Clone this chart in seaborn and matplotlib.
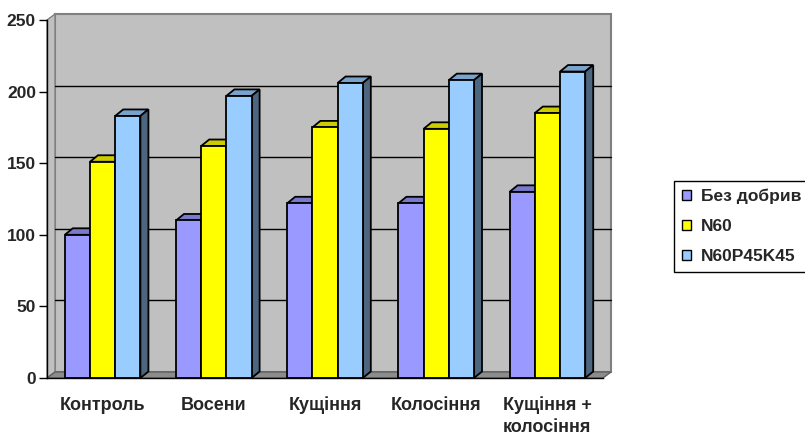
import matplotlib
matplotlib.use("Agg")
import matplotlib.pyplot as plt
from matplotlib.patches import Polygon, Rectangle, Patch
from matplotlib.transforms import offset_copy, IdentityTransform
import matplotlib.colors as mcolors
import numpy as np
import pandas as pd
import seaborn as sns

# ---- data ----
stages = ["Контроль", "Восени", "Кущіння", "Колосіння", "Кущіння +\nколосіння"]
treatments = ["Без добрив", "N60", "N60P45K45"]
bez_dobryv = [100, 110, 122, 122, 130]
n60 = [151, 162, 175, 174, 185]
n60p45k45 = [183, 197, 206, 208, 214]
y_ticks = [0, 50, 100, 150, 200, 250]

colors = ["#9999FF", "#FFFF00", "#99CCFF"]

df = pd.DataFrame({
    "stage": stages * 3,
    "treatment": [t for t in treatments for _ in stages],
    "value": bez_dobryv + n60 + n60p45k45,
})

sns.set_style("white")
plt.rcParams["font.family"] = ["Liberation Sans", "DejaVu Sans"]

W, H = 805, 436
fig = plt.figure(figsize=(W / 100, H / 100), dpi=100)
ax = fig.add_axes([47 / W, 58 / H, 556 / W, 358 / H])

sns.barplot(data=df, x="stage", y="value", hue="treatment", order=stages,
            hue_order=treatments, palette=colors, width=0.68,
            edgecolor="black", linewidth=1.3, saturation=1, legend=False,
            ax=ax)
bars = [p for p in ax.patches if isinstance(p, Rectangle)]

ax.set_xlim(-0.5, len(stages) - 0.5)
ax.set_ylim(0, 250)
ax.set_yticks(y_ticks)
ax.set_xlabel("")
ax.set_ylabel("")
ax.patch.set_visible(False)

# depth offsets (pixels) for the walls and the column faces
DX, DY = 8, 6
BX, BY = 8, 6.5

# back wall
wall_tr = offset_copy(ax.transAxes, fig=fig, x=DX, y=DY, units="dots")
ax.add_patch(Rectangle((0, 0), 1, 1, transform=wall_tr, facecolor="#C0C0C0",
                       edgecolor="#808080", linewidth=1.5, zorder=0.1,
                       clip_on=False))
grid_tr = offset_copy(ax.get_yaxis_transform(), fig=fig, x=DX, y=DY,
                      units="dots")
for v in y_ticks[1:-1]:
    ax.plot([0, 1], [v, v], transform=grid_tr, color="black", lw=1.0,
            zorder=0.2, clip_on=False)

fig.canvas.draw()
ident = IdentityTransform()
p00 = ax.transAxes.transform((0, 0))
p01 = ax.transAxes.transform((0, 1))
p10 = ax.transAxes.transform((1, 0))
d = np.array([DX, DY])

# side wall
ax.add_patch(Polygon([p00, p00 + d, p01 + d, p01], closed=True,
                     transform=ident, facecolor="#C0C0C0",
                     edgecolor="#808080", linewidth=1.0, zorder=0.15,
                     clip_on=False))
# floor
ax.add_patch(Polygon([p00, p10, p10 + d, p00 + d], closed=True,
                     transform=ident, facecolor="#8C8C8C",
                     edgecolor="#606060", linewidth=1.0, zorder=0.3,
                     clip_on=False))

# 3D faces of the columns, drawn left to right so nearer columns overlap
bars.sort(key=lambda b: b.get_x())
for i, b in enumerate(bars):
    x0, y0 = ax.transData.transform((b.get_x(), 0))
    x1, y1 = ax.transData.transform((b.get_x() + b.get_width(), b.get_height()))
    fc = np.array(mcolors.to_rgb(b.get_facecolor()))
    z = 1 + i * 0.01
    top = Polygon([(x0, y1), (x1, y1), (x1 + BX, y1 + BY), (x0 + BX, y1 + BY)],
                  closed=True, transform=ident, facecolor=fc * 0.8,
                  edgecolor="black", linewidth=1.3, zorder=z,
                  clip_on=False)
    side = Polygon([(x1, y0), (x1 + BX, y0 + BY), (x1 + BX, y1 + BY), (x1, y1)],
                   closed=True, transform=ident, facecolor=fc * 0.5,
                   edgecolor="black", linewidth=1.3, zorder=z,
                   clip_on=False)
    ax.add_patch(top)
    ax.add_patch(side)
    b.set_zorder(z + 0.005)

# axes and ticks
for s in ["top", "right"]:
    ax.spines[s].set_visible(False)
for s in ["left", "bottom"]:
    ax.spines[s].set_color("black")
    ax.spines[s].set_linewidth(1.0)
    ax.spines[s].set_zorder(5)

ax.set_xticks(np.arange(-0.5, len(stages), 1.0), minor=True)
ax.tick_params(axis="x", which="minor", length=6, width=1, color="black",
               direction="out")
ax.tick_params(axis="x", which="major", length=0, pad=13.5, labelsize=13)
ax.tick_params(axis="y", length=6, width=1, color="black", pad=2,
               labelsize=12.5, left=True)
for lbl in ax.get_xticklabels() + ax.get_yticklabels():
    lbl.set_fontweight("bold")
for lbl in ax.get_xticklabels():
    lbl.set_linespacing(1.35)

# legend
handles = [Patch(facecolor=c, edgecolor="black", linewidth=1.0) for c in colors]
leg = fig.legend(handles, treatments, loc="upper left",
                 bbox_to_anchor=(674 / W, 1 - 181 / H, 150 / W, 0),
                 mode="expand", borderaxespad=0, frameon=True,
                 fancybox=False, framealpha=1, edgecolor="black",
                 prop=dict(weight="bold", size=12.5),
                 handlelength=0.55, handleheight=0.55, handletextpad=0.55,
                 labelspacing=0.86, borderpad=0.45)
leg.get_frame().set_linewidth(1.0)

fig.savefig("out.png", dpi=100)
